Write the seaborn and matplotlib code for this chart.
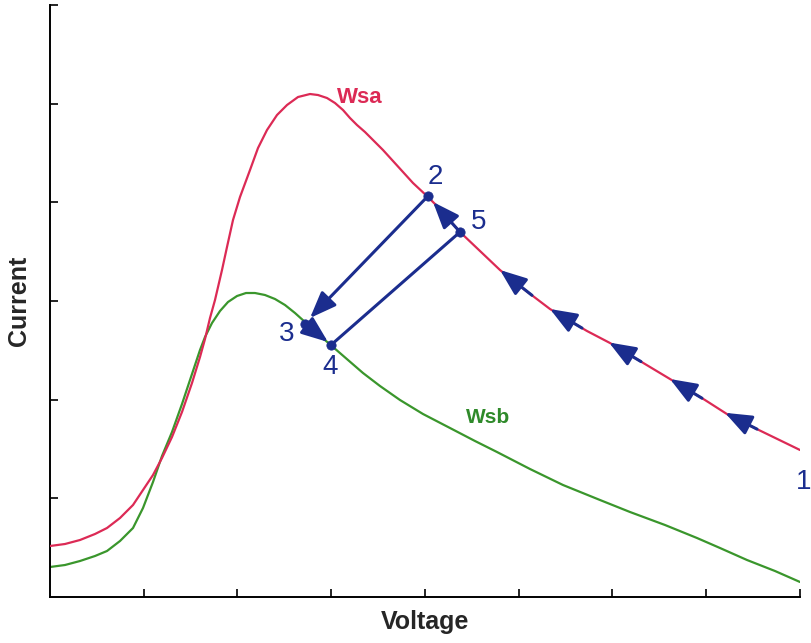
import matplotlib
matplotlib.use("Agg")
import matplotlib.pyplot as plt
import seaborn as sns
import pandas as pd
import numpy as np

# ---- data (arbitrary units, no tick labels shown) ----
# voltage axis spans 0..750, current axis spans 0..592
wsa_x = [0, 15, 30, 45, 57, 70, 83, 93, 103, 112, 122, 132, 142, 150, 155, 160, 165,
         172, 177, 183, 190, 200, 208, 217, 227, 237, 248, 260, 268, 277, 285, 293,
         300, 307, 315, 323, 333, 343, 353, 363, 378, 390, 410, 430, 450, 475, 500,
         520, 537, 560, 580, 605, 630, 655, 680, 715, 750]
wsa_y = [51, 53, 57, 63, 69, 79, 92, 107, 122, 139, 160, 185, 214, 240, 258, 279, 297,
         327, 350, 377, 400, 427, 449, 467, 482, 492, 500, 503, 502, 499, 494, 487,
         479, 472, 465, 457, 447, 436, 425, 414, 400, 388, 365, 346, 327, 307, 288,
         276, 266, 254, 242, 227, 212, 197, 181, 164, 147]

wsb_x = [0, 15, 30, 45, 57, 70, 83, 93, 103, 112, 122, 132, 142, 150, 155, 162, 170,
         178, 187, 196, 205, 215, 225, 235, 245, 255, 268, 283, 298, 313, 330, 350,
         373, 400, 425, 447, 480, 513, 550, 580, 615, 647, 670, 697, 725, 750]
wsb_y = [30, 32, 36, 41, 46, 56, 69, 89, 115, 141, 165, 193, 223, 247, 260, 274, 286,
         295, 301, 304, 304, 302, 298, 292, 284, 275, 263, 250, 237, 224, 211, 197,
         183, 169, 156, 145, 128, 112, 97, 85, 72, 59, 49, 37, 26, 15]

pt_labels = ["2", "5", "3", "4"]
pt_x = [378, 410, 255, 281]
pt_y = [401, 365, 273, 252]

# direction arrows drawn on the Wsa branch (tip positions along voltage)
tip_x = [450, 500, 559, 620, 675]

x_ticks = [93.75 * k for k in range(1, 9)]
y_ticks = [98.67 * k for k in range(1, 7)]

RED = "#dc2a55"
GREEN = "#3a962c"
BLUE = "#1b2d8e"

sns.set_theme(style="white")
plt.rcParams["font.family"] = ["Liberation Sans", "DejaVu Sans"]

fig = plt.figure(figsize=(8.12, 6.43), dpi=100)
ax = fig.add_axes([50 / 812, 1 - 597 / 643, 750 / 812, 592 / 643])

df_a = pd.DataFrame({"v": wsa_x, "i": wsa_y})
df_b = pd.DataFrame({"v": wsb_x, "i": wsb_y})
sns.lineplot(data=df_b, x="v", y="i", sort=False, estimator=None, color=GREEN,
             lw=1.6, ax=ax, zorder=2)
sns.lineplot(data=df_a, x="v", y="i", sort=False, estimator=None, color=RED,
             lw=1.6, ax=ax, zorder=3)

ax.set_xlim(0, 750)
ax.set_ylim(0, 592)
ax.set_xticks(x_ticks)
ax.set_yticks(y_ticks)
ax.set_xticklabels([])
ax.set_yticklabels([])
ax.tick_params(direction="in", length=6, width=1.2, color="black",
               bottom=True, left=True)
for s in ["top", "right"]:
    ax.spines[s].set_visible(False)
for s in ["left", "bottom"]:
    ax.spines[s].set_color("black")
    ax.spines[s].set_linewidth(1.4)
ax.set_xlabel("Voltage", fontsize=18, fontweight="bold", labelpad=6)
ax.set_ylabel("Current", fontsize=18, fontweight="bold", labelpad=10)

arrow_kw = dict(arrowstyle="-|>,head_length=0.9,head_width=0.35", color=BLUE,
                lw=2.2, shrinkA=0, shrinkB=0, mutation_scale=18)

# transition 2 -> 3 (arrow) and 5 -> 4 (plain line)
ax.annotate("", xy=(260, 279), xytext=(pt_x[0], pt_y[0]), arrowprops=arrow_kw, zorder=5)
ax.annotate("", xy=(pt_x[3], pt_y[3]), xytext=(pt_x[1], pt_y[1]),
            arrowprops=dict(arrowstyle="-", color=BLUE, lw=2.2, shrinkA=0, shrinkB=0),
            zorder=5)
# 3 -> 4 along Wsb
ax.annotate("", xy=(278, 255), xytext=(pt_x[2], pt_y[2]), arrowprops=arrow_kw, zorder=5)
# 5 -> 2 along Wsa
ax.annotate("", xy=(383, 395), xytext=(pt_x[1], pt_y[1]), arrowprops=arrow_kw, zorder=5)

# direction arrows sitting on the Wsa curve
for tx in tip_x:
    ty = np.interp(tx, wsa_x, wsa_y)
    sx = tx + 32
    sy = np.interp(sx, wsa_x, wsa_y)
    ax.annotate("", xy=(tx, ty), xytext=(sx, sy), arrowprops=arrow_kw, zorder=5)

sns.scatterplot(x=pt_x, y=pt_y, color=BLUE, s=45, edgecolor=BLUE, ax=ax, zorder=6)

lbl_x = [385, 429, 237, 280]
lbl_y = [420, 375, 263, 230]
for t, lx, ly in zip(pt_labels, lbl_x, lbl_y):
    ax.text(lx, ly, t, fontsize=20, color=BLUE, ha="center", va="center", zorder=7)
ax.text(754, 115, "1", fontsize=20, color=BLUE, ha="center", va="center",
        clip_on=False, zorder=7)

ax.text(310, 500, "Wsa", fontsize=16, fontweight="bold", color=RED,
        ha="center", va="center")
ax.text(438, 180, "Wsb", fontsize=15, fontweight="bold", color="#2f8a2a",
        ha="center", va="center")

fig.savefig("out.png", dpi=100)
